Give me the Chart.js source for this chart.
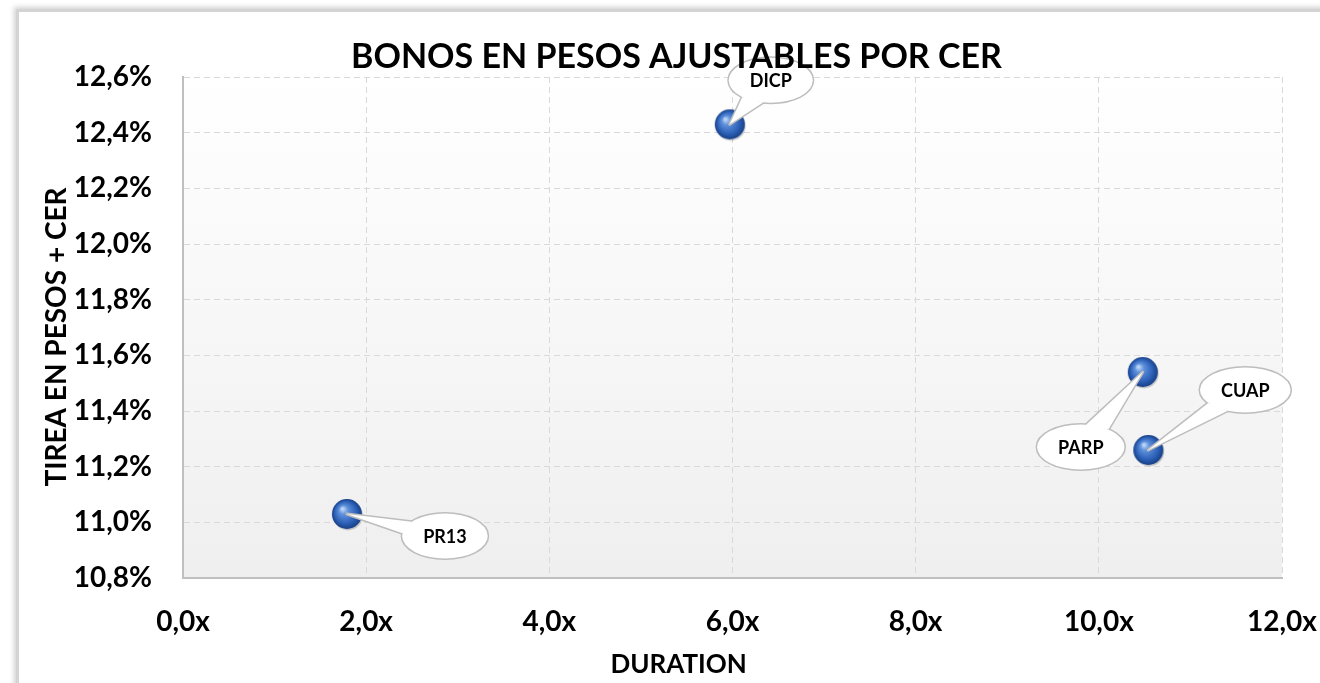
<!DOCTYPE html>
<html>
<head>
<meta charset="utf-8">
<script src="https://cdn.jsdelivr.net/npm/chart.js@4.4.0/dist/chart.umd.min.js"></script>
<style>
  html, body { margin: 0; padding: 0; background: #fff; overflow: hidden; }
  #frame { position: absolute; left: 16px; top: 9px; width: 1400px; height: 800px;
           border: 3px solid #d4d4d4; box-shadow: -2px -2px 5px rgba(0,0,0,0.18); }
  #wrap { position: absolute; left: 0; top: 0; width: 1320px; height: 683px; }
</style>
</head>
<body>
<div id="frame"></div>
<div id="wrap"><canvas id="chart" width="1320" height="683"></canvas></div>
<script>
// ---- data ----
const bonds = ['PR13', 'DICP', 'PARP', 'CUAP'];
const duration = [1.79, 5.97, 10.48, 10.54];
const tirea = [11.03, 12.43, 11.54, 11.26];
const xTicks = [0, 2, 4, 6, 8, 10, 12];
const yTicks = [10.8, 11.0, 11.2, 11.4, 11.6, 11.8, 12.0, 12.2, 12.4, 12.6];

// callout bubble placement, relative to each point (px)
const calloutOffset = [[98, 22], [41, -44], [-62, 75], [97, -60]];

const FONT = 'Lato, "Open Sans", sans-serif';
const chartTitle = 'BONOS EN PESOS AJUSTABLES POR CER';
const xTitle = 'DURATION';
const yTitle = 'TIREA EN PESOS + CER';

// blue sphere marker
function makeSphere(r) {
  const c = document.createElement('canvas');
  const s = r * 2 + 6;
  c.width = s; c.height = s;
  const g = c.getContext('2d');
  const cx = s / 2, cy = s / 2;
  g.beginPath();
  g.arc(cx + 1, cy + 1.5, r, 0, Math.PI * 2);
  g.fillStyle = 'rgba(0,0,0,0.18)';
  g.fill();
  const grad = g.createRadialGradient(cx - r * 0.3, cy - r * 0.35, 1, cx, cy, r);
  grad.addColorStop(0, '#b9d3f5');
  grad.addColorStop(0.25, '#5f91dc');
  grad.addColorStop(0.7, '#2e62b8');
  grad.addColorStop(1, '#173f86');
  g.beginPath();
  g.arc(cx, cy, r, 0, Math.PI * 2);
  g.fillStyle = grad;
  g.fill();
  return c;
}
const sphere = makeSphere(15);

const plotBackground = {
  id: 'plotBackground',
  beforeDraw(chart) {
    const { ctx, chartArea: a } = chart;
    const grad = ctx.createLinearGradient(0, a.top, 0, a.bottom);
    grad.addColorStop(0, '#ffffff');
    grad.addColorStop(1, '#efefef');
    ctx.save();
    ctx.fillStyle = grad;
    ctx.fillRect(a.left, a.top, a.right - a.left, a.bottom - a.top);
    ctx.restore();
  }
};

// chart + axis titles (Excel places them slightly off the plot centre)
const titles = {
  id: 'titles',
  afterDraw(chart) {
    const { ctx, chartArea: a } = chart;
    ctx.save();
    ctx.fillStyle = '#000';
    ctx.textAlign = 'center';
    ctx.textBaseline = 'alphabetic';
    ctx.font = 'bold 34px ' + FONT;
    ctx.fillText(chartTitle, a.left + (a.right - a.left) * 0.449, a.top - 9);
    ctx.font = 'bold 26px ' + FONT;
    ctx.fillText(xTitle, a.left + (a.right - a.left) * 0.451, a.bottom + 95);
    ctx.font = 'bold 28px ' + FONT;
    ctx.translate(66, a.top + (a.bottom - a.top) * 0.519);
    ctx.rotate(-Math.PI / 2);
    ctx.fillText(yTitle, 0, 0);
    ctx.restore();
  }
};

const callouts = {
  id: 'callouts',
  afterDatasetsDraw(chart) {
    const ctx = chart.ctx;
    const pts = chart.getDatasetMeta(0).data;
    ctx.save();
    ctx.font = 'bold 18px ' + FONT;
    pts.forEach((p, i) => {
      const label = bonds[i];
      const cx = p.x + calloutOffset[i][0];
      const cy = p.y + calloutOffset[i][1];
      const rx = (ctx.measureText(label).width + 42) / 2;
      const ry = 22.5;
      const t = Math.atan2((p.y - cy) / ry, (p.x - cx) / rx);
      const b1 = [cx + rx * Math.cos(t - 0.28), cy + ry * Math.sin(t - 0.28)];
      const b2 = [cx + rx * Math.cos(t + 0.28), cy + ry * Math.sin(t + 0.28)];
      const tail = () => {
        ctx.beginPath();
        ctx.moveTo(b1[0], b1[1]);
        ctx.lineTo(p.x, p.y);
        ctx.lineTo(b2[0], b2[1]);
        ctx.closePath();
      };
      const ell = () => {
        ctx.beginPath();
        ctx.ellipse(cx, cy, rx, ry, 0, 0, Math.PI * 2);
      };
      ctx.strokeStyle = '#bdbdbd';
      ctx.lineWidth = 3;
      ctx.lineJoin = 'round';
      tail(); ctx.stroke();
      ell(); ctx.stroke();
      ctx.fillStyle = '#ffffff';
      tail(); ctx.fill();
      ell(); ctx.fill();
      ctx.fillStyle = '#000000';
      ctx.textAlign = 'center';
      ctx.textBaseline = 'middle';
      ctx.fillText(label, cx, cy + 1);
    });
    ctx.restore();
  }
};

const tickFont = { family: FONT, size: 28, weight: 'bold' };

new Chart(document.getElementById('chart'), {
  type: 'scatter',
  data: {
    datasets: [{
      label: 'Bonos CER',
      data: bonds.map((b, i) => ({ x: duration[i], y: tirea[i] })),
      pointStyle: sphere,
      pointRadius: 15,
      pointHoverRadius: 15
    }]
  },
  options: {
    responsive: false,
    animation: false,
    layout: { padding: { left: 40, right: 38, top: 77, bottom: 0 } },
    plugins: {
      legend: { display: false },
      tooltip: { enabled: false },
      title: { display: false }
    },
    scales: {
      x: {
        type: 'linear',
        min: xTicks[0],
        max: xTicks[xTicks.length - 1],
        afterBuildTicks: s => { s.ticks = xTicks.map(v => ({ value: v })); },
        afterFit: s => { s.height = 105; s.paddingLeft = 0; s.paddingRight = 0; },
        ticks: {
          color: '#000',
          font: tickFont,
          padding: 27,
          maxRotation: 0,
          callback: v => v.toFixed(1).replace('.', ',') + 'x'
        },
        grid: { color: '#d9d9d9', lineWidth: 1, drawTicks: false },
        border: { display: true, color: '#bfbfbf', width: 2, dash: [6, 4] }
      },
      y: {
        type: 'linear',
        min: yTicks[0],
        max: yTicks[yTicks.length - 1],
        afterBuildTicks: s => { s.ticks = yTicks.map(v => ({ value: v })); },
        afterFit: s => { s.width = 143; s.paddingTop = 0; s.paddingBottom = 0; },
        ticks: {
          color: '#000',
          font: tickFont,
          padding: 31,
          callback: v => v.toFixed(1).replace('.', ',') + '%'
        },
        grid: { color: '#d9d9d9', lineWidth: 1, drawTicks: false },
        border: { display: true, color: '#bfbfbf', width: 2, dash: [6, 4] }
      }
    }
  },
  plugins: [plotBackground, callouts, titles]
});
</script>
</body>
</html>
